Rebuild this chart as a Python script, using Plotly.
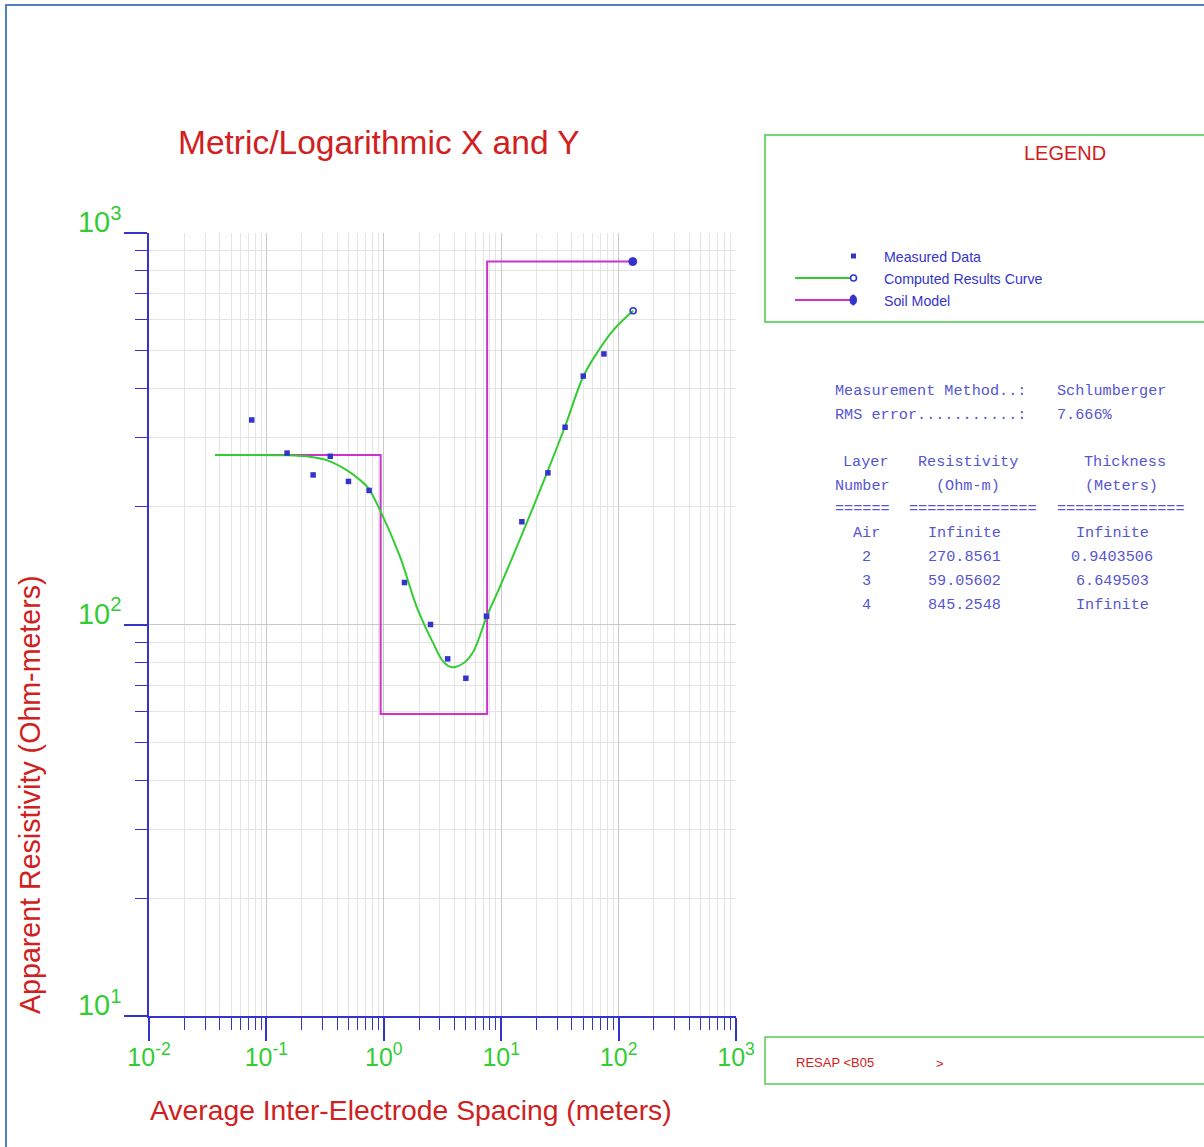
import plotly.graph_objects as go

# ---- measured apparent resistivity (Schlumberger sounding) ----
spacing_m = [0.075, 0.15, 0.25, 0.35, 0.5, 0.75, 1.5, 2.5, 3.5, 5.0, 7.5, 15, 25, 35, 50, 75]
measured_rho = [333, 274, 241, 269, 232, 220, 128, 100, 81.7, 72.9, 105, 183, 244, 319, 431, 491]

# ---- computed results curve ----
curve_x = [0.0365, 0.149, 0.24, 0.326, 0.483, 0.627, 0.738, 0.928, 1.374, 1.906, 2.64, 3.21,
           3.79, 4.76, 5.78, 7.52, 9.77, 13.6, 18.8, 24.4, 34.9, 50.0, 65.1, 90.2, 133]
curve_y = [270.9, 270.5, 268, 263, 248, 234, 223, 196, 149, 111, 89.5, 80.4,
           77.8, 79.6, 85.2, 104.7, 125, 158, 200, 243, 320, 430, 493, 565, 633]

# ---- soil model (layer resistivities and thicknesses) ----
layer_names = ["Air", "2", "3", "4"]
layer_rho = [270.8561, 59.05602, 845.2548]
layer_thick = [0.9403506, 6.649503]
model_x_start = 0.0365
model_x_end = 132
rms_error = "7.666%"
method = "Schlumberger"

# ---- axis tick labels ----
x_tickvals = [0.01, 0.1, 1, 10, 100, 1000]
x_ticktext = ["10<sup>-2</sup>", "10<sup>-1</sup>", "10<sup>0</sup>", "10<sup>1</sup>",
              "10<sup>2</sup>", "10<sup>3</sup>"]
y_tickvals = [10, 100, 1000]
y_ticktext = ["10<sup>1</sup>", "10<sup>2</sup>", "10<sup>3</sup>"]

BLUE = "#3434cc"
GREEN = "#33cc33"
MAGENTA = "#cc33cc"
RED = "#d02020"
TABLE_BLUE = "#5656d2"

# step profile of the layered model
d1 = layer_thick[0]
d2 = layer_thick[0] + layer_thick[1]
model_x = [model_x_start, d1, d1, d2, d2, model_x_end]
model_y = [layer_rho[0], layer_rho[0], layer_rho[1], layer_rho[1], layer_rho[2], layer_rho[2]]

fig = go.Figure()
fig.add_trace(go.Scatter(x=model_x, y=model_y, mode="lines",
                         line=dict(color=MAGENTA, width=2), showlegend=False))
fig.add_trace(go.Scatter(x=[model_x[-1]], y=[model_y[-1]], mode="markers",
                         marker=dict(symbol="circle", size=8, color=BLUE,
                                     line=dict(color=BLUE, width=1)), showlegend=False))
fig.add_trace(go.Scatter(x=curve_x, y=curve_y, mode="lines",
                         line=dict(color=GREEN, width=2, shape="spline", smoothing=1.0),
                         showlegend=False))
fig.add_trace(go.Scatter(x=[curve_x[-1]], y=[curve_y[-1]], mode="markers",
                         marker=dict(symbol="circle-open", size=6, color=BLUE,
                                     line=dict(color=BLUE, width=1.6)), showlegend=False))
fig.add_trace(go.Scatter(x=spacing_m, y=measured_rho, mode="markers",
                         marker=dict(symbol="square", size=5.5, color=BLUE), showlegend=False))

# plot area in page pixels
PL, PR, PT, PB = 149, 736, 233, 1016
W, H = 1204, 1147


def px(x):
    return (x - PL) / (PR - PL)


def py(y):
    return (PB - y) / (PB - PT)


minor_x = [m * 10.0 ** e for e in range(-2, 3) for m in range(2, 10)]
minor_y = [m * 10.0 ** e for e in range(1, 3) for m in range(2, 10)]

fig.update_xaxes(
    type="log", range=[-2, 3], tickmode="array", tickvals=x_tickvals, ticktext=x_ticktext,
    showgrid=True, gridcolor="#c9c9c9", gridwidth=1,
    showline=True, linecolor=BLUE, linewidth=1.5, zeroline=False,
    ticks="outside", ticklen=23, tickwidth=1.5, tickcolor=BLUE,
    ticklabelstandoff=-5,
    tickfont=dict(family="Liberation Sans, Arial", size=25, color=GREEN),
    minor=dict(tickmode="array", tickvals=minor_x, showgrid=True, gridcolor="#e4e4e4",
               gridwidth=1, ticks="outside", ticklen=12, tickwidth=1.2, tickcolor=BLUE),
)
fig.update_yaxes(
    type="log", range=[1, 3], tickmode="array", tickvals=y_tickvals, ticktext=y_ticktext,
    showgrid=True, gridcolor="#c9c9c9", gridwidth=1,
    showline=True, linecolor=BLUE, linewidth=1.5, zeroline=False,
    ticks="outside", ticklen=23, tickwidth=1.5, tickcolor=BLUE,
    ticklabelshift=-11, ticklabelstandoff=-3,
    tickfont=dict(family="Liberation Sans, Arial", size=29, color=GREEN),
    minor=dict(tickmode="array", tickvals=minor_y, showgrid=True, gridcolor="#e4e4e4",
               gridwidth=1, ticks="outside", ticklen=12, tickwidth=1.2, tickcolor=BLUE),
)

ann = []


def text(x, y, s, size, color, family="Liberation Sans, Arial", xanchor="left", angle=0):
    ann.append(dict(x=px(x), y=py(y), xref="paper", yref="paper", text=s, showarrow=False,
                    xanchor=xanchor, yanchor="middle", textangle=angle,
                    font=dict(family=family, size=size, color=color)))


# titles
text(379, 143, "Metric/Logarithmic X and Y", 33.5, RED, xanchor="center")
text(411, 1110, "Average Inter-Electrode Spacing (meters)", 28.3, RED, xanchor="center")
text(30, 795, "Apparent Resistivity (Ohm-meters)", 28.6, RED, xanchor="center", angle=-90)

# legend box
text(1065, 153, "LEGEND", 20, RED, xanchor="center")
text(882, 257, "Measured Data", 14.2, BLUE)
text(882, 279, "Computed Results Curve", 14.2, BLUE)
text(882, 301, "Soil Model", 14.2, BLUE)

# results table
MONO = "Liberation Mono, Courier New, monospace"
TS = 15.2
text(833, 391, "Measurement Method..:", TS, TABLE_BLUE, MONO)
text(1055, 391, method, TS, TABLE_BLUE, MONO)
text(833, 415, "RMS error...........:", TS, TABLE_BLUE, MONO)
text(1055, 415, rms_error, TS, TABLE_BLUE, MONO)
text(866, 462, "Layer", TS, TABLE_BLUE, MONO, xanchor="center")
text(862, 486, "Number", TS, TABLE_BLUE, MONO, xanchor="center")
text(968, 462, "Resistivity", TS, TABLE_BLUE, MONO, xanchor="center")
text(968, 486, "(Ohm-m)", TS, TABLE_BLUE, MONO, xanchor="center")
text(1125, 462, "Thickness", TS, TABLE_BLUE, MONO, xanchor="center")
text(1121, 486, "(Meters)", TS, TABLE_BLUE, MONO, xanchor="center")
text(833, 509, "======", TS, TABLE_BLUE, MONO)
text(907, 509, "==============", TS, TABLE_BLUE, MONO)
text(1055, 509, "==============", TS, TABLE_BLUE, MONO)

rho_txt = ["Infinite", f"{layer_rho[0]:.4f}", f"{layer_rho[1]:.5f}", f"{layer_rho[2]:.4f}"]
thick_txt = ["Infinite", f"{layer_thick[0]:.7f}", f"{layer_thick[1]:.6f}", "Infinite"]
for i, (nm, r, t) in enumerate(zip(layer_names, rho_txt, thick_txt)):
    yy = 533 + 24 * i
    text(866, yy, nm, TS, TABLE_BLUE, MONO, xanchor="center")
    text(964, yy, r, TS, TABLE_BLUE, MONO, xanchor="center")
    text(1112, yy, t, TS, TABLE_BLUE, MONO, xanchor="center")

# footer box
text(794, 1062, "RESAP &lt;B05", 13, RED)
text(934, 1063, "&gt;", 13, RED)

shapes = []


def rect(x0, y0, x1, y1, color, width=1.5, fill=None):
    shapes.append(dict(type="rect", xref="paper", yref="paper",
                       x0=px(x0), x1=px(x1), y0=py(y0), y1=py(y1),
                       line=dict(color=color, width=width),
                       fillcolor=fill if fill else "rgba(0,0,0,0)", layer="above"))


def seg(x0, y0, x1, y1, color, width=2):
    shapes.append(dict(type="line", xref="paper", yref="paper",
                       x0=px(x0), x1=px(x1), y0=py(y0), y1=py(y1),
                       line=dict(color=color, width=width), layer="above"))


# page frame
rect(6, 5, 1230, 1170, "#4f81bd", width=2)
# legend and footer frames
rect(765, 135, 1230, 322, "#44cc44", width=1.5)
rect(765, 1037, 1230, 1084, "#55cc55", width=1.5)

# legend samples
shapes.append(dict(type="rect", xref="paper", yref="paper",
                   x0=px(851), x1=px(856), y0=py(253.5), y1=py(258.5),
                   line=dict(color=BLUE, width=0), fillcolor=BLUE, layer="above"))
seg(795, 278, 852, 278, GREEN, 2)
shapes.append(dict(type="circle", xref="paper", yref="paper",
                   x0=px(850.5), x1=px(856.5), y0=py(275), y1=py(281),
                   line=dict(color=BLUE, width=1.6), fillcolor="white", layer="above"))
seg(795, 300, 851, 300, MAGENTA, 2)
shapes.append(dict(type="circle", xref="paper", yref="paper",
                   x0=px(850), x1=px(856.5), y0=py(295), y1=py(305),
                   line=dict(color=BLUE, width=1), fillcolor=BLUE, layer="above"))

fig.update_layout(
    width=W, height=H, autosize=False,
    margin=dict(l=PL, r=W - PR, t=PT, b=H - PB, pad=0),
    paper_bgcolor="white", plot_bgcolor="white",
    showlegend=False,
    annotations=ann, shapes=shapes,
)

fig.write_html("out.html")
